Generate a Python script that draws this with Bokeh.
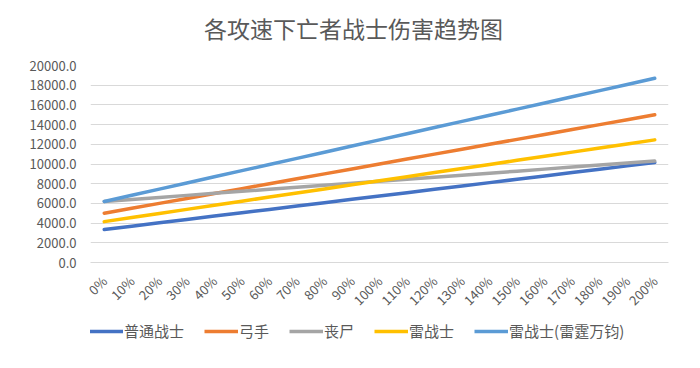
from bokeh.plotting import figure
from bokeh.models import Legend, LegendItem, NumeralTickFormatter, Range1d, Div
from bokeh.layouts import column
from bokeh.embed import file_html
from bokeh.resources import INLINE
import math

title_text = "各攻速下亡者战士伤害趋势图"

categories = ["0%", "10%", "20%", "30%", "40%", "50%", "60%", "70%", "80%", "90%", "100%",
              "110%", "120%", "130%", "140%", "150%", "160%", "170%", "180%", "190%", "200%"]

putong = [3350, 3690, 4030, 4370, 4710, 5050, 5390, 5730, 6070, 6410, 6750,
          7090, 7430, 7770, 8110, 8450, 8790, 9130, 9470, 9810, 10150]
gongshou = [5000, 5500, 6000, 6500, 7000, 7500, 8000, 8500, 9000, 9500, 10000,
            10500, 11000, 11500, 12000, 12500, 13000, 13500, 14000, 14500, 15000]
sangshi = [6200, 6405, 6610, 6815, 7020, 7225, 7430, 7635, 7840, 8045, 8250,
           8455, 8660, 8865, 9070, 9275, 9480, 9685, 9890, 10095, 10300]
leizhanshi = [4150, 4565, 4980, 5395, 5810, 6225, 6640, 7055, 7470, 7885, 8300,
              8715, 9130, 9545, 9960, 10375, 10790, 11205, 11620, 12035, 12450]
leiting = [6200, 6825, 7450, 8075, 8700, 9325, 9950, 10575, 11200, 11825, 12450,
           13075, 13700, 14325, 14950, 15575, 16200, 16825, 17450, 18075, 18700]

series_names = ["普通战士", "弓手", "丧尸", "雷战士", "雷战士(雷霆万钧)"]
series_values = [putong, gongshou, sangshi, leizhanshi, leiting]
colors = ["#4472C4", "#ED7D31", "#A5A5A5", "#FFC000", "#5B9BD5"]

FONT = "Noto Sans CJK SC"
TXT = "#595959"
LW = 3.5

title_div = Div(text=title_text, width=684, height=50, margin=0,
                styles={"font-family": FONT, "font-size": "23px", "color": TXT,
                        "line-height": "56px", "text-indent": "204px",
                        "white-space": "nowrap"})

p = figure(width=684, height=268, x_range=categories, y_range=Range1d(0, 20000),
           output_backend="svg", toolbar_location=None,
           min_border_left=90, min_border_right=16, min_border_top=15, min_border_bottom=48)

p.outline_line_color = None
p.xgrid.grid_line_color = None
p.ygrid.grid_line_color = "#d9d9d9"
p.ygrid.grid_line_width = 1

p.yaxis.ticker = list(range(0, 20001, 2000))
p.yaxis.formatter = NumeralTickFormatter(format="0.0")
p.yaxis.axis_line_color = None
p.yaxis.major_tick_line_color = None
p.yaxis.minor_tick_line_color = None
p.yaxis.major_label_text_font = FONT
p.yaxis.major_label_text_font_size = "13px"
p.yaxis.major_label_text_color = TXT
p.yaxis.major_label_standoff = 8

p.xaxis.axis_line_color = "#d9d9d9"
p.xaxis.major_tick_line_color = None
p.xaxis.minor_tick_line_color = None
p.xaxis.major_label_orientation = math.pi / 4
p.xaxis.major_label_text_font = FONT
p.xaxis.major_label_text_font_size = "13px"
p.xaxis.major_label_text_color = TXT
p.xaxis.major_label_standoff = 10

for vals, c in zip(series_values, colors):
    p.line(categories, vals, line_color=c, line_width=LW, line_cap="round", line_join="round")

# legend strip below the chart
lf = figure(width=684, height=34, x_range=categories, y_range=Range1d(-20, -10),
            output_backend="svg", toolbar_location=None,
            x_axis_location=None, y_axis_location=None,
            min_border_left=0, min_border_right=0, min_border_top=0, min_border_bottom=0)
lf.outline_line_color = None
lf.grid.grid_line_color = None

items = []
for name, vals, c in zip(series_names, series_values, colors):
    r = lf.line(categories, vals, line_color=c, line_width=LW)
    items.append(LegendItem(label=name, renderers=[r]))

legend = Legend(items=items, orientation="horizontal", location=(-1, 11),
                label_text_font=FONT, label_text_font_size="15px", label_text_color=TXT,
                glyph_width=34, glyph_height=14, spacing=20, label_standoff=1,
                border_line_color=None, background_fill_alpha=0, margin=0, padding=2)
lf.add_layout(legend)

layout = column(title_div, p, lf, spacing=0)
open("out.html", "w").write(file_html(layout, INLINE))
